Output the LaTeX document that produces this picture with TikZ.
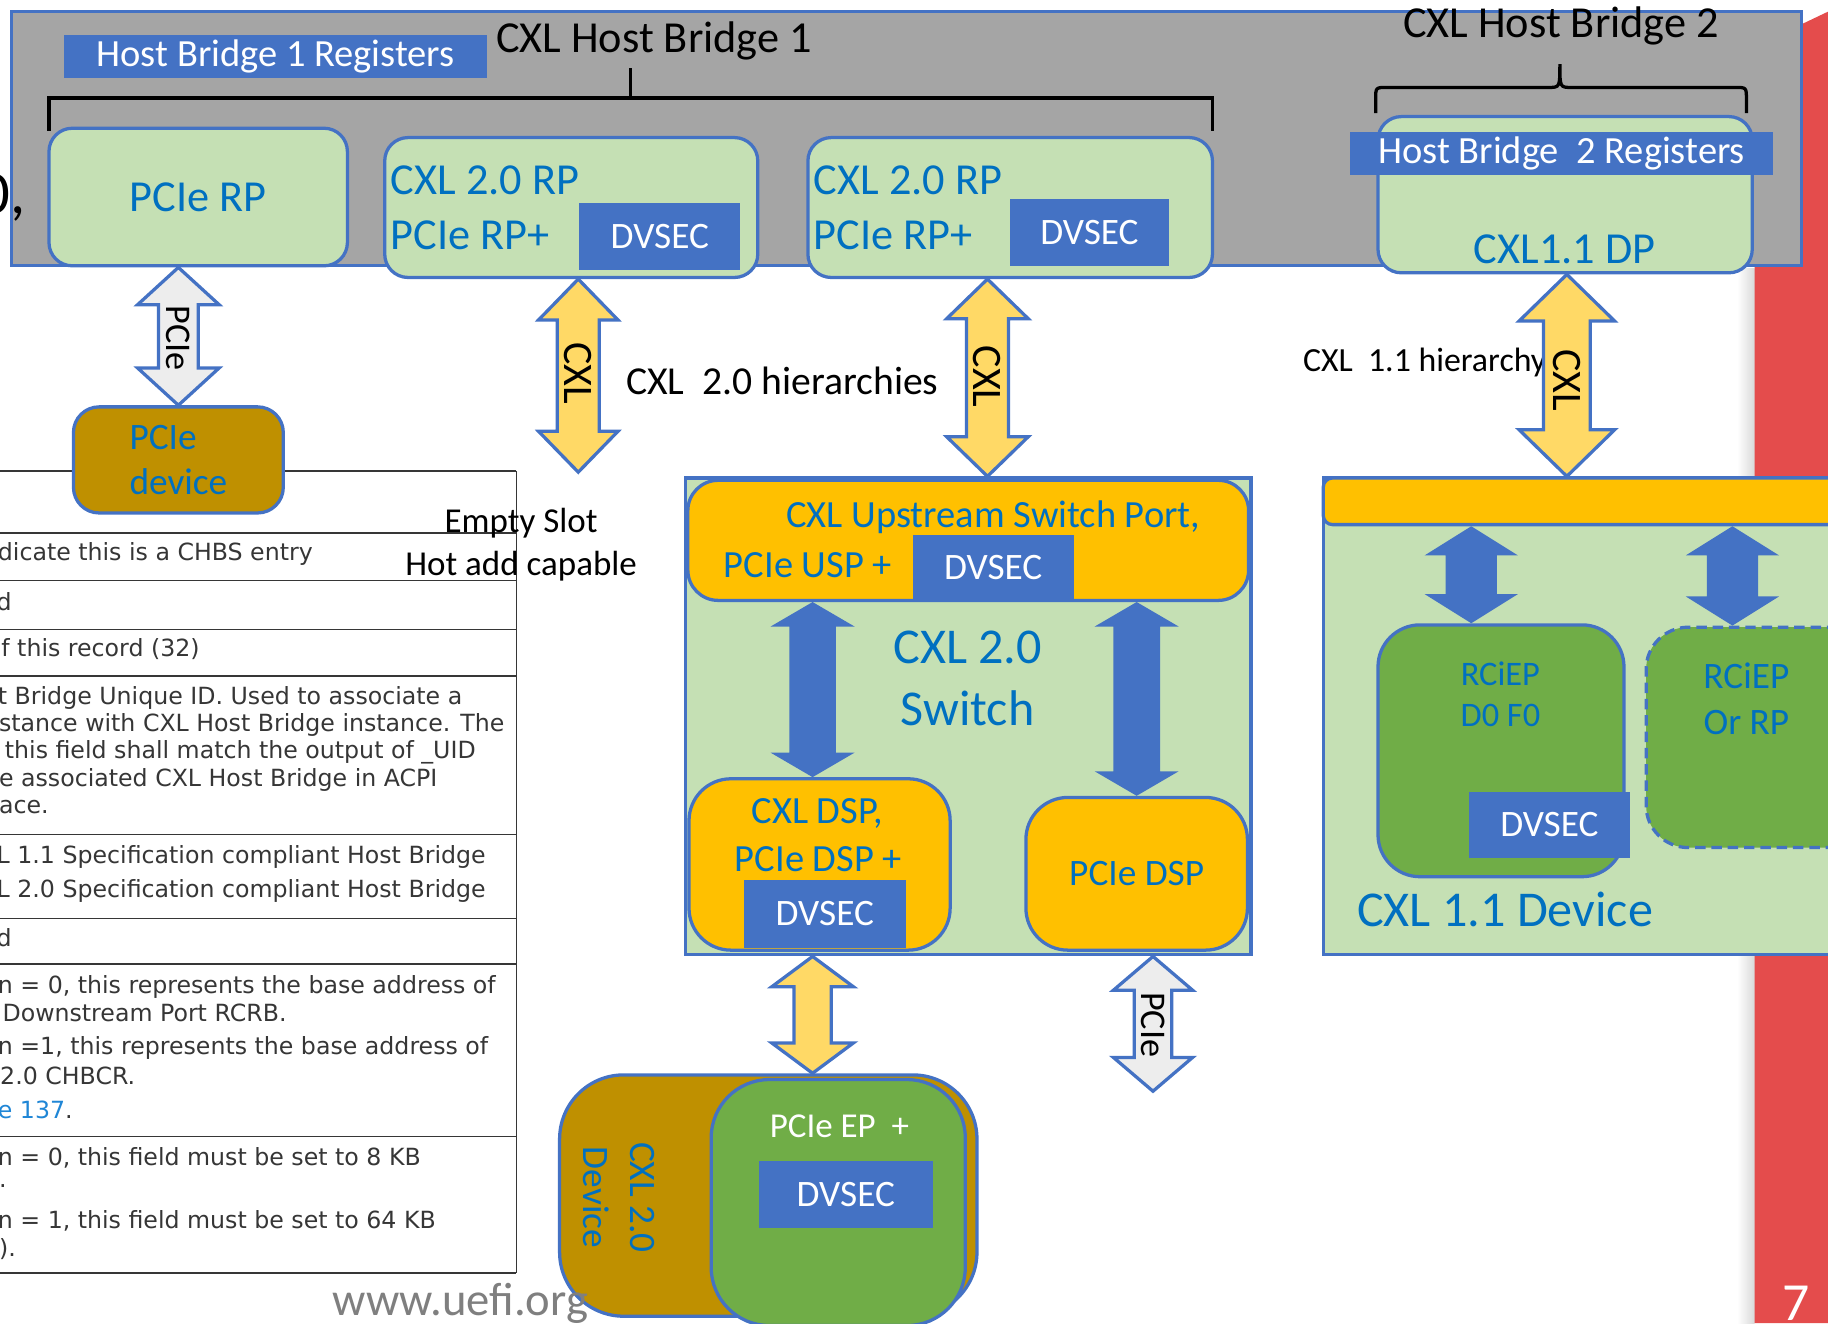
\documentclass[tikz,border=0pt]{standalone}
\usepackage{fontspec}
\setmainfont{Carlito}
\newfontfamily\tabfont{DejaVu Sans}
\usepackage{xcolor}
\usetikzlibrary{calc,positioning}
\definecolor{hbgray}{HTML}{A5A5A5}
\definecolor{pblue}{HTML}{4472C4}
\definecolor{tblue}{HTML}{0070C0}
\definecolor{lgreen}{HTML}{C5E0B4}
\definecolor{dgreen}{HTML}{70AD47}
\definecolor{gold}{HTML}{BF9000}
\definecolor{amber}{HTML}{FFC000}
\definecolor{lyellow}{HTML}{FFD966}
\definecolor{lgray}{HTML}{EDEDED}
\definecolor{slidered}{HTML}{E44C4C}
\definecolor{tabgray}{HTML}{363636}
\definecolor{linkblue}{HTML}{1F86D6}
\definecolor{urlgray}{HTML}{7F7F7F}
\tikzstyle{box} = [draw=pblue, line width=2.8pt]
\tikzstyle{rpbox} = [box, fill=lgreen, rounded corners=20pt]
\tikzstyle{portbox} = [box, fill=amber, rounded corners=30pt]
\tikzstyle{reg} = [fill=pblue, text=white, font=\fontsize{33}{38}\selectfont]
\tikzstyle{dvsec} = [fill=pblue, text=white, font=\fontsize{32}{38}\selectfont]
\tikzstyle{title} = [font=\fontsize{38}{44}\selectfont]
\tikzstyle{rplabel} = [text=tblue, font=\fontsize{38}{44}\selectfont]
\tikzstyle{plabel} = [text=tblue, font=\fontsize{33}{38}\selectfont]
\tikzstyle{bracket} = [black, line width=2.8pt]
\tikzstyle{yarrow} = [draw=pblue, line width=2.8pt, fill=lyellow]
\tikzstyle{garrow} = [draw=pblue, line width=2.8pt, fill=lgray]
\tikzstyle{barrow} = [fill=pblue]
\tikzstyle{arrlabel} = [rotate=-90]
\tikzstyle{tabline} = [draw=tabgray, line width=1.3pt]
\tikzstyle{tabtext} = [anchor=west, text=tabgray, font=\tabfont\fontsize{20.3}{24}\selectfont]
\newcommand{\blockarr}[7]{%
  \path[#1] let \p1=(#2 -| #4), \p2=(#3 -| #4) in
    (\x1,\y1) -- ({\x1+#5pt},{\y1-#7pt}) -- ({\x1+#6pt},{\y1-#7pt})
    -- ({\x1+#6pt},{\y2+#7pt}) -- ({\x1+#5pt},{\y2+#7pt}) -- (\x1,\y2)
    -- ({\x1-#5pt},{\y2+#7pt}) -- ({\x1-#6pt},{\y2+#7pt})
    -- ({\x1-#6pt},{\y1-#7pt}) -- ({\x1-#5pt},{\y1-#7pt}) -- cycle;}

\begin{document}
\begin{tikzpicture}[x=1pt, y=-1pt, every node/.style={inner sep=0pt}]
    \useasboundingbox (0,0) rectangle (1568,1135);
    \fill[white] (0,0) rectangle (1568,1135);
    \shade[left color=white, right color=black!15] (1490,230) rectangle (1505,1135);
    \fill[slidered] (1505,1135) -- (1505,40) -- (1568,10) -- (1568,1135) -- cycle;
    \node[text=white, font=\fontsize{46}{50}\selectfont] (pgnum) at (1541,1118) {7};

    \node[draw=pblue, line width=2.5pt, fill=hbgray, minimum width=1535pt, minimum height=218pt] (host) at (777.5,119) {};
    \node[anchor=east, font=\fontsize{52}{56}\selectfont] (cut) at (22,170) {0,};
    \node[reg, minimum width=363pt, minimum height=37pt] (hbreg1) at (236.5,48.5) {Host Bridge 1 Registers};
    \node[title] (hb1) at (561,35) {CXL Host Bridge 1};
    \draw[bracket] (42,112) -- (42,84) -- (1040,84) -- (1040,112) (541,84) -- (541,58);
    \node[rpbox, minimum width=256pt, minimum height=118pt, text=tblue, font=\fontsize{38}{44}\selectfont] (pcierp) at (170,169) {PCIe RP};
    \node[rpbox, minimum width=320pt, minimum height=120pt] (rpA) at (490,178) {};
    \node[rpbox, minimum width=347pt, minimum height=120pt] (rpB) at (866.5,178) {};
    \node[dvsec, minimum width=138pt, minimum height=58pt] (dvA) at (566,203) {DVSEC};
    \node[dvsec, minimum width=137pt, minimum height=57pt] (dvB) at (934.5,199.5) {DVSEC};
    \node[rplabel, anchor=west] (rpAt) at (335,155) {CXL 2.0 RP};
    \node[rplabel, anchor=west] (rpAb) at (335,202) {PCIe RP+};
    \node[rplabel, anchor=west] (rpBt) at (698,155) {CXL 2.0 RP};
    \node[rplabel, anchor=west] (rpBb) at (698,202) {PCIe RP+};

    \node[title] (hb2) at (1339,22) {CXL Host Bridge 2};
    \draw[bracket] (1180,97) -- (1180,85) .. controls (1180,75) .. (1190,75) -- (1328,75)
      .. controls (1338,75) .. (1338,55) .. controls (1338,75) .. (1348,75) -- (1488,75)
      .. controls (1498,75) .. (1498,85) -- (1498,97);
    \node[rpbox, minimum width=321pt, minimum height=134pt] (dp) at (1342.5,167) {};
    \node[reg, minimum width=363pt, minimum height=37pt] (hbreg2) at (1339.5,131.5) {Host Bridge~~2 Registers};
    \node[rplabel] (dpt) at (1342,214) {CXL1.1 DP};

    \foreach \ty in {404,457,498,540,580,716,788,827,975,1092}
    \draw[tabline] (-5,\ty) -- (443,\ty);
    \draw[tabline] (443,404) -- (443,1092);
    \foreach \ty/\tx/\tt in {475/-2/{dicate this is a CHBS entry}, 516/-3/d,
    557/1/{f this record (32)}, 599/-2/{t Bridge Unique ID. Used to associate a},
    622/-1/{stance with CXL Host Bridge instance. The}, 645/4/{this field shall match the output of \_UID},
    669/-1/{e associated CXL Host Bridge in ACPI}, 692/-1/{ace.},
    735/-3/{L 1.1 Specification compliant Host Bridge}, 764/-3/{L 2.0 Specification compliant Host Bridge},
    804/-3/d, 847/-2/{n = 0, this represents the base address of}, 869/2/{Downstream Port RCRB.},
    899/-2/{n =1, this represents the base address of}, 923/0/{2.0 CHBCR.},
    952/-2/{\textcolor{linkblue}{e 137}.}, 993/-2/{n = 0, this field must be set to 8 KB}, 1017/-1/{.},
    1047/-2/{n = 1, this field must be set to 64 KB}, 1071/-1/{).}}
    \node[tabtext] (t\ty) at (\tx,\ty) {\tt};

    \node[box, fill=gold, rounded corners=22pt, minimum width=180pt, minimum height=91pt, text=tblue, align=left, font=\fontsize{32}{39}\selectfont] (pciedev) at (153,394.5) {PCIe\\device};
    \node[align=center, font=\fontsize{30}{37}\selectfont] (slottxt) at (447,467) {Empty Slot\\Hot add capable};
    \node[font=\fontsize{34}{40}\selectfont] (h20) at (671,327) {CXL~~2.0 hierarchies};
    \node[font=\fontsize{29}{34}\selectfont] (h11) at (1222,311) {CXL~~1.1 hierarchy};

    \node[box, fill=lgreen, minimum width=485pt, minimum height=409pt] (sw) at (830.5,614.5) {};
    \node[portbox, rounded corners=26pt, minimum width=481pt, minimum height=103pt] (usp) at (830.5,463.5) {};
    \node[dvsec, minimum width=138pt, minimum height=56pt] (dvU) at (852,487) {DVSEC};
    \node[plabel] (uspt) at (852,444) {CXL Upstream Switch Port,};
    \node[plabel] (uspb) at (693,485) {PCIe USP +};
    \node[plabel, align=center, font=\fontsize{43}{53}\selectfont] (swt) at (830,582) {CXL 2.0\\Switch};
    \node[portbox, rounded corners=36pt, minimum width=224pt, minimum height=147pt] (dsp) at (703,741.5) {};
    \node[plabel] (dspt) at (701,698) {CXL DSP,};
    \node[plabel] (dspb) at (702,737) {PCIe DSP +};
    \node[dvsec, minimum width=139pt, minimum height=58pt] (dvD) at (707.5,784) {DVSEC};
    \node[portbox, rounded corners=36pt, minimum width=190pt, minimum height=131pt, text=tblue, font=\fontsize{32}{38}\selectfont] (pdsp) at (975,749.5) {PCIe DSP};

    \node[box, fill=lgreen, minimum width=485pt, minimum height=409pt] (dev11) at (1377.5,614.5) {};
    \node[box, fill=amber, rounded corners=8pt, minimum width=485pt, minimum height=40pt] (bar) at (1377.5,430) {};
    \node[box, fill=dgreen, rounded corners=36pt, minimum width=211pt, minimum height=216pt] (rciep) at (1287.5,644) {};
    \node[plabel, align=center, font=\fontsize{29.5}{35}\selectfont] (rciept) at (1287,595.5) {RCiEP\\D0 F0};
    \node[dvsec, minimum width=138pt, minimum height=57pt] (dvR) at (1329,707.5) {DVSEC};
    \node[box, dash pattern=on 9pt off 5pt, fill=dgreen, rounded corners=36pt, minimum width=228pt, minimum height=189pt] (rcrp) at (1526,632.5) {};
    \node[plabel, align=center, font=\fontsize{32}{39}\selectfont] (rcrpt) at (1498,599.5) {RCiEP\\Or RP};
    \node[plabel, font=\fontsize{43}{50}\selectfont] (d11t) at (1291,780) {CXL 1.1 Device};

    \node[box, fill=gold, rounded corners=55pt, minimum width=358pt, minimum height=207pt] (dev2) at (659,1025.5) {};
    \node[box, fill=dgreen, rounded corners=50pt, minimum width=218pt, minimum height=211pt] (ep) at (719,1031.5) {};
    \node[plabel, rotate=-90, align=center, font=\fontsize{32}{40}\selectfont] (dev2t) at (531,1027) {CXL 2.0\\Device};
    \node[text=white, font=\fontsize{30}{36}\selectfont] (ept) at (720,966) {PCIe EP~~+};
    \node[dvsec, minimum width=149pt, minimum height=57pt] (dvE) at (725.5,1024.5) {DVSEC};
    \node[text=urlgray, font=\fontsize{40}{46}\selectfont] (url) at (395,1118) {www.uefi.org};

    \coordinate (xa) at (153,0);
    \coordinate (xb) at (496,0);
    \coordinate (xc) at (847,0);
    \coordinate (xd) at (1344,0);
    \coordinate (xe) at (697,0);
    \coordinate (xf) at (989,0);
    \coordinate (xg) at (975,0);
    \coordinate (xh) at (1262,0);
    \coordinate (xi) at (1486,0);
    \coordinate (slot) at (496,405);
    \coordinate (pcieout) at (989,936);
    \foreach \from/\to/\ax/\hw/\sw/\hl in {rpA.south/slot/xb/34/18/35, rpB.south/sw.north/xc/35/18/34,
    dp.south/bar.north/xd/41/20/40, sw.south/dev2.north/xe/35/16/26}
    \blockarr{yarrow}{\from}{\to}{\ax}{\hw}{\sw}{\hl};
    \foreach \from/\to/\ax/\hw/\sw/\hl in {pcierp.south/pciedev.north/xa/35/17/32, sw.south/pcieout/xf/34/16/29}
    \blockarr{garrow}{\from}{\to}{\ax}{\hw}{\sw}{\hl};
    \foreach \from/\to/\ax/\hw/\sw/\hl in {usp.south/dsp.north/xe/36/20/21, usp.south/pdsp.north/xg/36/20/21,
    bar.south/rciep.north/xh/40/22/25, bar.south/rcrp.north/xi/40/22/25}
    \blockarr{barrow}{\from}{\to}{\ax}{\hw}{\sw}{\hl};
    \node[arrlabel, font=\fontsize{31}{36}\selectfont] (lpcie1) at (153,290) {PCIe};
    \node[arrlabel, font=\fontsize{36}{40}\selectfont] (lcxl1) at (496,320) {CXL};
    \node[arrlabel, font=\fontsize{36}{40}\selectfont] (lcxl2) at (847,323) {CXL};
    \node[arrlabel, font=\fontsize{36}{40}\selectfont] (lcxl3) at (1344,326) {CXL};
    \node[arrlabel, font=\fontsize{31}{36}\selectfont] (lpcie2) at (989,879) {PCIe};
\end{tikzpicture}
\end{document}
